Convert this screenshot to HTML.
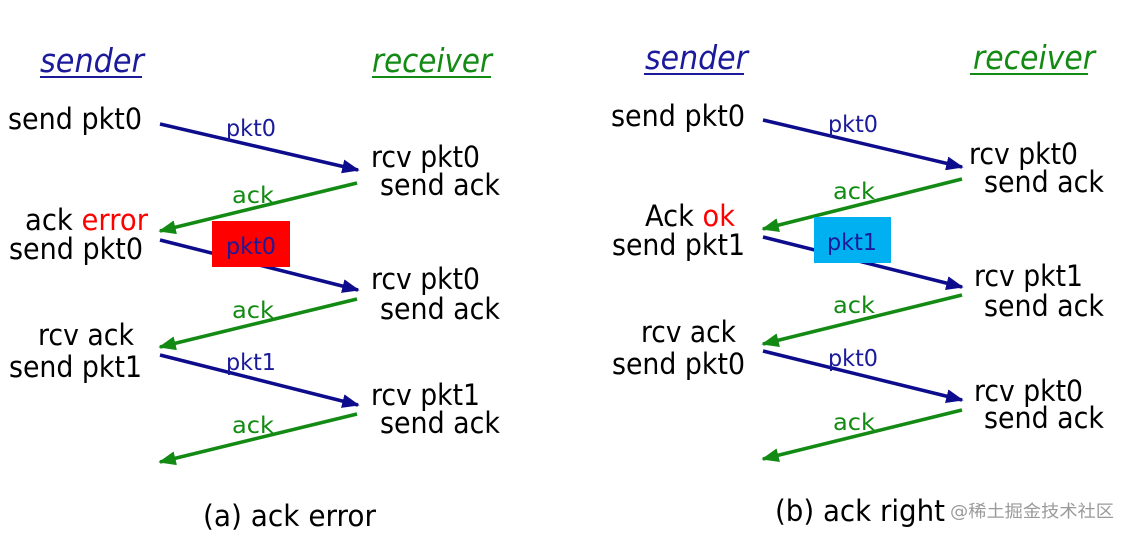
<!DOCTYPE html>
<html><head><meta charset="utf-8"><style>
html,body{margin:0;padding:0;background:#fff;}
svg{display:block;}
text{font-family:"DejaVu Sans","Liberation Sans",sans-serif;}
.b{fill:#000;font-size:29px;}
.bl{fill:#1a1a9a;font-size:23px;}
.g{fill:#138a13;font-size:23px;}
</style></head><body>
<svg width="1130" height="538" viewBox="0 0 1130 538" xmlns="http://www.w3.org/2000/svg">
<defs>
<marker id="ab" markerWidth="5" markerHeight="4" refX="4.5" refY="2" orient="auto" markerUnits="strokeWidth"><path d="M0,0 L5,2 L0,4 Z" fill="#0c0c8c"/></marker>
<marker id="ag" markerWidth="5" markerHeight="4" refX="4.5" refY="2" orient="auto" markerUnits="strokeWidth"><path d="M0,0 L5,2 L0,4 Z" fill="#138a13"/></marker>
</defs>
<rect width="1130" height="538" fill="#fff"/>

<!-- LEFT -->
<text x="40" y="72" font-size="33" font-style="italic" fill="#1a1a9a" textLength="104" lengthAdjust="spacingAndGlyphs">sender</text>
<rect x="40" y="76" width="102" height="2" fill="#1a1a9a"/>
<text x="372" y="72" font-size="33" font-style="italic" fill="#138a13" textLength="120" lengthAdjust="spacingAndGlyphs">receiver</text>
<rect x="372" y="76" width="119" height="2" fill="#138a13"/>

<text class="b" x="8" y="129" textLength="134" lengthAdjust="spacingAndGlyphs">send pkt0</text>
<line x1="160" y1="124" x2="358" y2="170" stroke="#0c0c8c" stroke-width="3.5" marker-end="url(#ab)"/>
<text class="bl" x="226" y="136" textLength="50" lengthAdjust="spacingAndGlyphs">pkt0</text>
<text class="b" x="371" y="167" textLength="109" lengthAdjust="spacingAndGlyphs">rcv pkt0</text>
<text class="b" x="380" y="195" textLength="120" lengthAdjust="spacingAndGlyphs">send ack</text>

<line x1="357" y1="183" x2="160" y2="231" stroke="#138a13" stroke-width="3.5" marker-end="url(#ag)"/>
<text class="g" x="232" y="203" textLength="42" lengthAdjust="spacingAndGlyphs">ack</text>
<text class="b" x="25" y="230" textLength="123" lengthAdjust="spacingAndGlyphs">ack <tspan fill="#f00">error</tspan></text>
<text class="b" x="9" y="259" textLength="134" lengthAdjust="spacingAndGlyphs">send pkt0</text>

<line x1="160" y1="240" x2="358" y2="290" stroke="#0c0c8c" stroke-width="3.5" marker-end="url(#ab)"/>
<rect x="212" y="221" width="78" height="46" fill="#f00"/>
<text class="bl" x="226" y="254" textLength="50" lengthAdjust="spacingAndGlyphs">pkt0</text>
<text class="b" x="371" y="289" textLength="109" lengthAdjust="spacingAndGlyphs">rcv pkt0</text>
<text class="b" x="380" y="319" textLength="120" lengthAdjust="spacingAndGlyphs">send ack</text>

<line x1="357" y1="299" x2="160" y2="347" stroke="#138a13" stroke-width="3.5" marker-end="url(#ag)"/>
<text class="g" x="232" y="318" textLength="42" lengthAdjust="spacingAndGlyphs">ack</text>
<text class="b" x="38" y="345" textLength="96" lengthAdjust="spacingAndGlyphs">rcv ack</text>
<text class="b" x="9" y="377" textLength="133" lengthAdjust="spacingAndGlyphs">send pkt1</text>

<line x1="160" y1="355" x2="358" y2="405" stroke="#0c0c8c" stroke-width="3.5" marker-end="url(#ab)"/>
<text class="bl" x="226" y="370" textLength="50" lengthAdjust="spacingAndGlyphs">pkt1</text>
<text class="b" x="371" y="405" textLength="109" lengthAdjust="spacingAndGlyphs">rcv pkt1</text>
<text class="b" x="380" y="433" textLength="120" lengthAdjust="spacingAndGlyphs">send ack</text>

<line x1="357" y1="414" x2="160" y2="462" stroke="#138a13" stroke-width="3.5" marker-end="url(#ag)"/>
<text class="g" x="232" y="433" textLength="42" lengthAdjust="spacingAndGlyphs">ack</text>

<text class="b" x="203" y="526" font-size="31" textLength="173" lengthAdjust="spacingAndGlyphs">(a) ack error</text>

<!-- RIGHT -->
<text x="645" y="69" font-size="33" font-style="italic" fill="#1a1a9a" textLength="103" lengthAdjust="spacingAndGlyphs">sender</text>
<rect x="644" y="73" width="100" height="2" fill="#1a1a9a"/>
<text x="973" y="69" font-size="33" font-style="italic" fill="#138a13" textLength="122" lengthAdjust="spacingAndGlyphs">receiver</text>
<rect x="970" y="73" width="118" height="2" fill="#138a13"/>

<text class="b" x="611" y="126" textLength="134" lengthAdjust="spacingAndGlyphs">send pkt0</text>
<line x1="763" y1="120" x2="962" y2="167" stroke="#0c0c8c" stroke-width="3.5" marker-end="url(#ab)"/>
<text class="bl" x="828" y="132" textLength="50" lengthAdjust="spacingAndGlyphs">pkt0</text>
<text class="b" x="969" y="164" textLength="109" lengthAdjust="spacingAndGlyphs">rcv pkt0</text>
<text class="b" x="984" y="192" textLength="120" lengthAdjust="spacingAndGlyphs">send ack</text>

<line x1="962" y1="179" x2="763" y2="229" stroke="#138a13" stroke-width="3.5" marker-end="url(#ag)"/>
<text class="g" x="833" y="199" textLength="42" lengthAdjust="spacingAndGlyphs">ack</text>
<text class="b" x="645" y="226" textLength="90" lengthAdjust="spacingAndGlyphs">Ack <tspan fill="#f00">ok</tspan></text>
<text class="b" x="612" y="255" textLength="133" lengthAdjust="spacingAndGlyphs">send pkt1</text>

<line x1="763" y1="237" x2="962" y2="287" stroke="#0c0c8c" stroke-width="3.5" marker-end="url(#ab)"/>
<rect x="814" y="217" width="77" height="46" fill="#00b0f0"/>
<text class="bl" x="827" y="250" textLength="50" lengthAdjust="spacingAndGlyphs">pkt1</text>
<text class="b" x="974" y="286" textLength="109" lengthAdjust="spacingAndGlyphs">rcv pkt1</text>
<text class="b" x="984" y="316" textLength="120" lengthAdjust="spacingAndGlyphs">send ack</text>

<line x1="962" y1="295" x2="763" y2="344" stroke="#138a13" stroke-width="3.5" marker-end="url(#ag)"/>
<text class="g" x="833" y="313" textLength="42" lengthAdjust="spacingAndGlyphs">ack</text>
<text class="b" x="641" y="342" textLength="95" lengthAdjust="spacingAndGlyphs">rcv ack</text>
<text class="b" x="612" y="374" textLength="133" lengthAdjust="spacingAndGlyphs">send pkt0</text>

<line x1="763" y1="351" x2="962" y2="400" stroke="#0c0c8c" stroke-width="3.5" marker-end="url(#ab)"/>
<text class="bl" x="828" y="366" textLength="50" lengthAdjust="spacingAndGlyphs">pkt0</text>
<text class="b" x="974" y="401" textLength="109" lengthAdjust="spacingAndGlyphs">rcv pkt0</text>
<text class="b" x="984" y="428" textLength="120" lengthAdjust="spacingAndGlyphs">send ack</text>

<line x1="962" y1="410" x2="763" y2="459" stroke="#138a13" stroke-width="3.5" marker-end="url(#ag)"/>
<text class="g" x="833" y="430" textLength="42" lengthAdjust="spacingAndGlyphs">ack</text>

<text class="b" x="775" y="521" font-size="31" textLength="170" lengthAdjust="spacingAndGlyphs">(b) ack right</text>
<text x="950" y="517" font-size="17" fill="#9a9a9a" font-family="'Liberation Sans','Noto Sans CJK SC',sans-serif" textLength="164" lengthAdjust="spacingAndGlyphs">@稀土掘金技术社区</text>
</svg>
</body></html>
